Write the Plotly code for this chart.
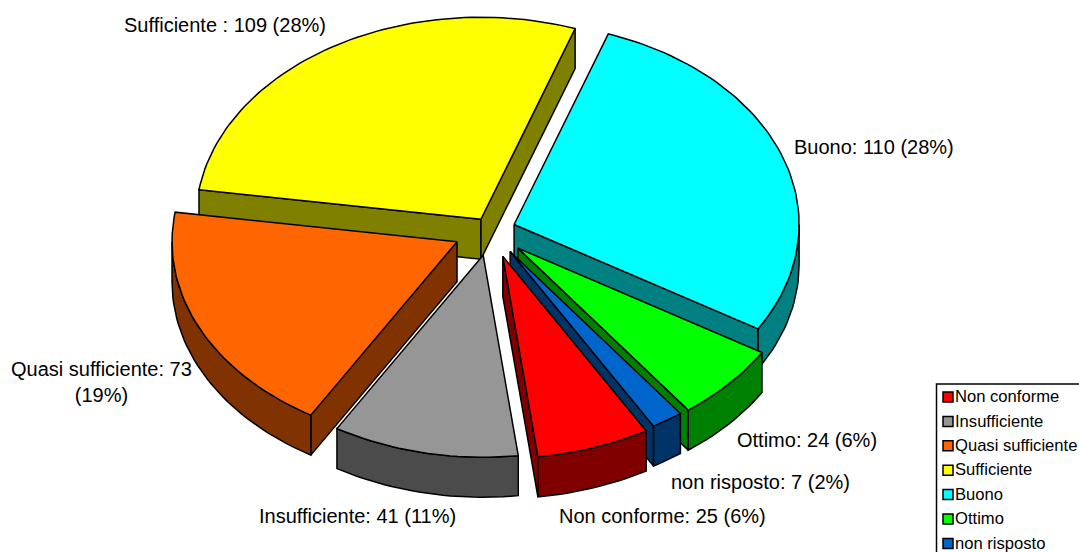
import math
import plotly.graph_objects as go

categories = ["Non conforme", "Insufficiente", "Quasi sufficiente", "Sufficiente", "Buono", "Ottimo", "non risposto"]
values = [25, 41, 73, 109, 110, 24, 7]
slice_labels = ["Non conforme: 25 (6%)", "Insufficiente: 41 (11%)", "Quasi sufficiente: 73<br>(19%)",
                "Sufficiente : 109 (28%)", "Buono: 110 (28%)", "Ottimo: 24 (6%)", "non risposto: 7 (2%)"]
top_colors = ["#ff0000", "#969696", "#ff6600", "#ffff00", "#00ffff", "#00ff00", "#0066cc"]
side_colors = ["#800000", "#4b4b4b", "#803300", "#808000", "#008080", "#008000", "#003366"]
explode = [0.135, 0.125, 0.13, 0.065, 0.088, 0.13, 0.125]

W, H = 1079, 552
CX, CY, RX, RY, DEPTH = 490.5, 230.5, 285, 202, 40
START = 19.3  # first boundary: Buono starts here, going clockwise
LABEL_POS = [(662, 516), (357, 516), (101, 382), (225, 25), (874, 147), (807, 440), (760, 482)]

total = sum(values)
order = [4, 5, 6, 0, 1, 2, 3]
angles = {}
a = START
for i in order:
    b = a + values[i] / total * 360
    angles[i] = (a, b)
    a = b


def pt(ax, ay, deg, dz=0):
    t = math.radians(deg)
    return ax + RX * math.sin(t), ay - RY * math.cos(t) + dz


fig = go.Figure()


def poly(points, color, name):
    xs = [p[0] for p in points] + [points[0][0]]
    ys = [p[1] for p in points] + [points[0][1]]
    fig.add_trace(go.Scatter(x=xs, y=ys, mode="lines", fill="toself", fillcolor=color,
                             line=dict(color="black", width=1.5), name=name,
                             hoverinfo="name", showlegend=False))


def arc(ax, ay, a1, a2, dz=0):
    n = max(2, int(abs(a2 - a1) / 1.5) + 1)
    return [pt(ax, ay, a1 + (a2 - a1) * k / (n - 1), dz) for k in range(n)]


def draw_slice(i):
    a1, a2 = angles[i]
    mid = math.radians((a1 + a2) / 2)
    ax = CX + explode[i] * RX * math.sin(mid)
    ay = CY - explode[i] * RY * math.cos(mid)
    name = categories[i]
    if math.sin(math.radians(a1)) < 0:
        p = pt(ax, ay, a1)
        poly([(ax, ay), p, (p[0], p[1] + DEPTH), (ax, ay + DEPTH)], side_colors[i], name)
    if math.sin(math.radians(a2)) > 0:
        p = pt(ax, ay, a2)
        poly([(ax, ay), p, (p[0], p[1] + DEPTH), (ax, ay + DEPTH)], side_colors[i], name)
    for off in (0, 360):
        lo, hi = max(a1, 90 + off), min(a2, 270 + off)
        if lo < hi:
            poly(arc(ax, ay, lo, hi) + arc(ax, ay, hi, lo, DEPTH), side_colors[i], name)
    poly([(ax, ay)] + arc(ax, ay, a1, a2), top_colors[i], name)


for i in [3, 4, 2, 1, 5, 6, 0]:
    draw_slice(i)

annotations = []
for lab, (lx, ly) in zip(slice_labels, LABEL_POS):
    annotations.append(dict(x=lx, y=ly, xref="x", yref="y", text=lab, showarrow=False,
                            font=dict(family="Liberation Sans, Arial", size=20, color="black"),
                            xanchor="center", yanchor="middle", align="center"))

LEG_X, LEG_TOP, LEG_STEP = 948, 397, 24.4
leg_y = [LEG_TOP + LEG_STEP * k for k in range(len(categories))]
fig.add_trace(go.Scatter(
    x=[LEG_X] * len(categories), y=leg_y, mode="markers",
    marker=dict(symbol="square", size=10, color=top_colors, line=dict(color="black", width=1.5)),
    hoverinfo="skip", showlegend=False, cliponaxis=False))
fig.add_trace(go.Scatter(
    x=[LEG_X + 7] * len(categories), y=[v + 1.0 for v in leg_y], mode="text",
    text=categories, textposition="middle right",
    textfont=dict(family="Liberation Sans, Arial", size=16.6, color="black"),
    hoverinfo="text", showlegend=False, cliponaxis=False))

fig.update_layout(
    width=W, height=H, autosize=False,
    margin=dict(l=0, r=0, t=0, b=0),
    paper_bgcolor="white", plot_bgcolor="white",
    xaxis=dict(range=[0, W], visible=False, fixedrange=True),
    yaxis=dict(range=[H, 0], visible=False, fixedrange=True),
    annotations=annotations,
    shapes=[dict(type="rect", xref="x", yref="y", x0=936.5, y0=384, x1=1090, y1=570,
                 line=dict(color="black", width=1.5), fillcolor="rgba(0,0,0,0)", layer="below")],
    showlegend=False,
)
fig.write_html("out.html", config={"displayModeBar": False},
               post_script="document.body.style.margin='0';document.body.style.overflow='hidden';")
